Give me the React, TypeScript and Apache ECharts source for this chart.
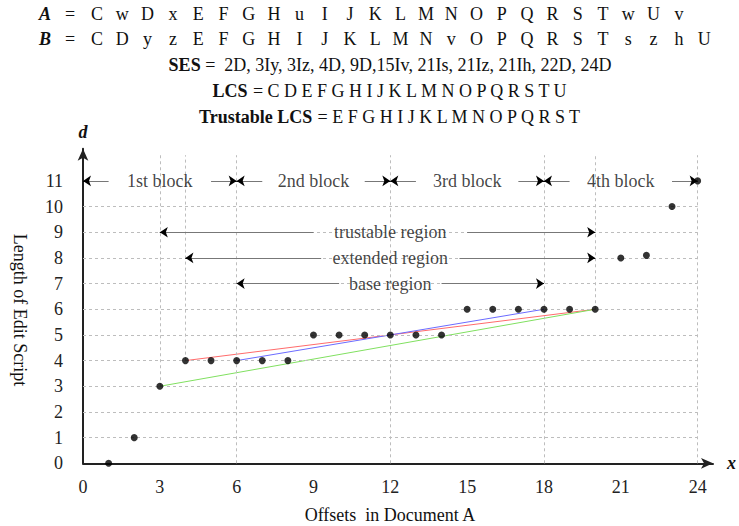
import React, { useEffect, useRef } from 'react';
import * as echarts from 'echarts';

// ---- Data ----
const rowA = ['C','w','D','x','E','F','G','H','u','I','J','K','L','M','N','O','P','Q','R','S','T','w','U','v'];
const rowB = ['C','D','y','z','E','F','G','H','I','J','K','L','M','N','v','O','P','Q','R','S','T','s','z','h','U'];
const sesText = '2D, 3Iy, 3Iz, 4D, 9D,15Iv, 21Is, 21Iz, 21Ih, 22D, 24D';
const lcsText = 'C D E F G H I J K L M N O P Q R S T U';
const trustableText = 'E F G H I J K L M N O P Q R S T';

const offsets = [1, 2, 3, 4, 5, 6, 7, 8, 9, 10, 11, 12, 13, 14, 15, 16, 17, 18, 19, 20, 21, 22, 23, 24];
const editLengths = [0, 1, 3, 4, 4, 4, 4, 4, 5, 5, 5, 5, 5, 5, 6, 6, 6, 6, 6, 6, 8, 8.1, 10, 11];

const redLine = [[4, 4], [20, 6]];
const blueLine = [[6, 4], [18, 6]];
const greenLine = [[3, 3], [20, 6]];

const xTickLabels = [0, 3, 6, 9, 12, 15, 18, 21, 24];
const yTickLabels = [0, 1, 2, 3, 4, 5, 6, 7, 8, 9, 10, 11];

const hGridValues = [1, 2, 3, 4, 5, 6, 7, 8, 9, 10];
const vGridX = [3, 4, 6, 12, 18, 20, 24];
const vGridFrom = [3, 4, 0, 0, 0, 6, 0];
const vGridTop = 12;

const blockLabels = ['1st block', '2nd block', '3rd block', '4th block'];
const blockStarts = [0, 6, 12, 18];
const blockEnds = [6, 12, 18, 24];
const blockY = 11;

const regionLabels = ['trustable region', 'extended region', 'base region'];
const regionStarts = [3, 4, 6];
const regionEnds = [20, 20, 18];
const regionY = [9, 8, 7];
const regionLeftTail = [9, 9.3, 10];
const regionRightTail = [15, 14.7, 14];
const regionLabelX = 12;

const FONT = '"Liberation Serif", "Times New Roman", serif';
const FS = 18;

export default function App() {
  const ref = useRef<HTMLDivElement>(null);
  useEffect(() => {
    if (!ref.current) return;
    const chart = echarts.init(ref.current, undefined, { renderer: 'svg' });

    const txt = (text: string, x: number, y: number, extra: any = {}) => ({
      type: 'text', x, y, silent: true,
      style: {
        text, fontSize: FS, fontFamily: FONT, fill: '#111',
        align: 'center', verticalAlign: 'middle', textAlign: 'center', textVerticalAlign: 'middle',
        ...extra,
      },
    });

    const colX = (i: number) => 97 + i * 25.3;
    const graphics: any[] = [];
    graphics.push(txt('A', 45, 14, { fontWeight: 'bold', fontStyle: 'italic' }));
    graphics.push(txt('=', 70, 14));
    rowA.forEach((c, i) => graphics.push(txt(c, colX(i), 14)));
    graphics.push(txt('B', 45, 39, { fontWeight: 'bold', fontStyle: 'italic' }));
    graphics.push(txt('=', 70, 39));
    rowB.forEach((c, i) => graphics.push(txt(c, colX(i), 39)));

    const rich = {
      b: { fontWeight: 'bold', fontSize: FS, fontFamily: FONT, fill: '#111', color: '#111' },
      n: { fontSize: FS, fontFamily: FONT, fill: '#111', color: '#111' },
    };
    graphics.push(txt('{b|SES}{n| =  ' + sesText + '}', 390, 65, { rich }));
    graphics.push(txt('{b|LCS}{n| = ' + lcsText + '}', 390, 91, { rich }));
    graphics.push(txt('{b|Trustable LCS}{n| = ' + trustableText + '}', 390, 117, { rich }));

    graphics.push(txt('Offsets  in Document A', 390, 515));
    graphics.push({
      ...txt('Length of Edit Script', 20, 310),
      rotation: -Math.PI / 2,
    });

    const gridLines: any[] = [];
    hGridValues.forEach((y) => gridLines.push([{ coord: [0, y] }, { coord: [24, y] }]));
    vGridX.forEach((x, i) => gridLines.push([{ coord: [x, vGridFrom[i]] }, { coord: [x, vGridTop] }]));

    // arrow shafts (gray) and heads (black)
    const shafts: any[] = [];
    const heads: any[] = [];
    const addArrow = (from: number, to: number, y: number) => {
      shafts.push([{ coord: [from, y] }, { coord: [to, y] }]);
      const dir = to > from ? 1 : -1;
      heads.push([{ coord: [to - dir * 0.15, y] }, { coord: [to, y] }]);
    };
    blockStarts.forEach((s, i) => {
      const e = blockEnds[i];
      addArrow(s + 1, s, blockY);
      addArrow(e - 1, e, blockY);
    });
    regionStarts.forEach((s, i) => {
      addArrow(regionLeftTail[i], s, regionY[i]);
      addArrow(regionRightTail[i], regionEnds[i], regionY[i]);
    });

    const labelData: any[] = [];
    blockLabels.forEach((t, i) => labelData.push({ value: [(blockStarts[i] + blockEnds[i]) / 2, blockY], name: t }));
    regionLabels.forEach((t, i) => labelData.push({ value: [regionLabelX, regionY[i]], name: t }));

    const lineSeries = (data: number[][], color: string) => ({
      type: 'line', data, symbol: 'none', z: 3,
      lineStyle: { color, width: 1 }, silent: true,
    });

    chart.setOption({
      animation: false,
      grid: { left: 83, right: 24.5, top: 148.8, bottom: 62.7 },
      xAxis: {
        type: 'value', min: 0, max: 24.6, interval: 3,
        name: 'x', nameLocation: 'end', nameGap: 14,
        nameTextStyle: { fontSize: FS, fontWeight: 'bold', fontStyle: 'italic', fontFamily: FONT, color: '#111' },
        axisLine: { show: true, symbol: ['none', 'arrow'], symbolSize: [8, 12], lineStyle: { color: '#222', width: 2 } },
        axisTick: { show: false },
        splitLine: { show: false },
        axisLabel: {
          margin: 15, fontSize: FS, fontFamily: FONT, color: '#222',
          formatter: (v: number) => (xTickLabels.includes(v) ? String(v) : ''),
        },
      },
      yAxis: {
        type: 'value', min: 0, max: 12.25, interval: 1,
        name: 'd', nameLocation: 'end', nameGap: 8,
        nameTextStyle: { fontSize: FS, fontWeight: 'bold', fontStyle: 'italic', fontFamily: FONT, color: '#111', align: 'center' },
        axisLine: { show: true, symbol: ['none', 'arrow'], symbolSize: [8, 12], lineStyle: { color: '#222', width: 2 } },
        axisTick: { show: false },
        splitLine: { show: false },
        axisLabel: {
          margin: 20, fontSize: FS, fontFamily: FONT, color: '#222',
          formatter: (v: number) => (yTickLabels.includes(v) ? String(v) : ''),
        },
      },
      series: [
        {
          type: 'scatter', data: [], silent: true, z: 1,
          markLine: {
            silent: true, symbol: ['none', 'none'], animation: false,
            label: { show: false },
            lineStyle: { color: '#bdbdbd', width: 1, type: [3, 3] },
            data: gridLines,
          },
        },
        {
          type: 'scatter', data: [], silent: true, z: 4,
          markLine: {
            silent: true, symbol: ['none', 'none'], animation: false,
            label: { show: false },
            lineStyle: { color: '#777', width: 1, type: 'solid' },
            data: shafts,
          },
        },
        {
          type: 'scatter', data: [], silent: true, z: 4,
          markLine: {
            silent: true, symbol: ['none', 'arrow'], symbolSize: 8, animation: false,
            label: { show: false },
            lineStyle: { color: '#000', width: 1, type: 'solid' },
            data: heads,
          },
        },
        lineSeries(redLine, '#ff6b6b'),
        lineSeries(blueLine, '#6b6bff'),
        lineSeries(greenLine, '#80e060'),
        {
          type: 'scatter', z: 5, silent: true,
          symbolSize: 7,
          itemStyle: { color: '#000' },
          data: offsets.map((x, i) => [x, editLengths[i]]),
        },
        {
          type: 'scatter', z: 6, silent: true, symbolSize: 1,
          itemStyle: { color: 'rgba(0,0,0,0)' },
          label: {
            show: true, position: 'inside', formatter: (p: any) => p.name,
            fontSize: FS, fontFamily: FONT, color: '#111',
          },
          data: labelData,
        },
      ],
      graphic: { elements: graphics },
    });
    return () => chart.dispose();
  }, []);
  return <div ref={ref} style={{ width: 739, height: 526, position: 'absolute', left: 0, top: 0, background: '#fff' }} />;
}
